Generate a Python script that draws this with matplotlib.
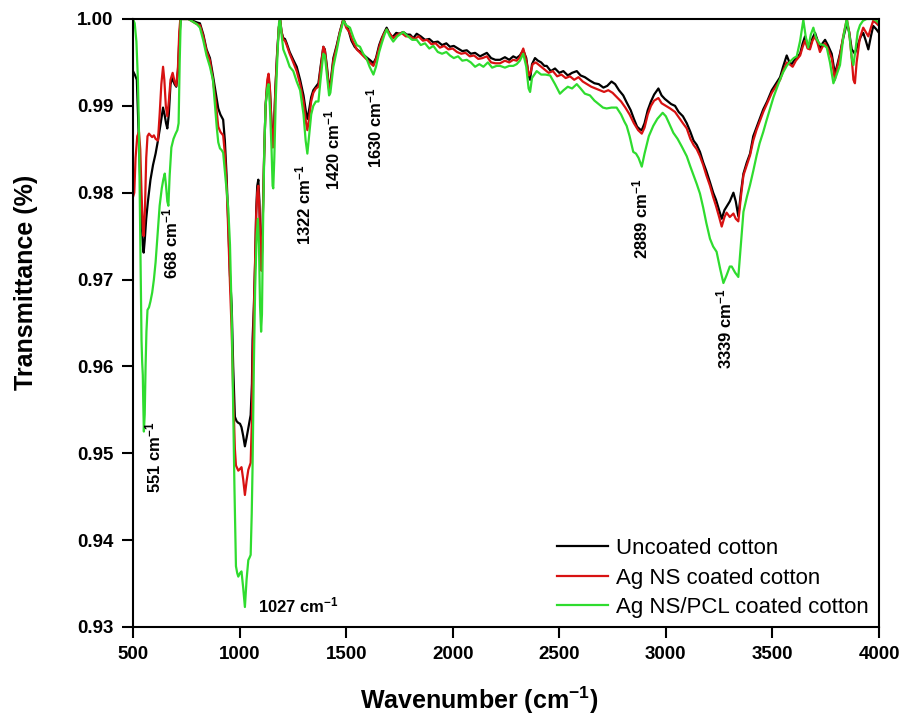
import matplotlib
matplotlib.use("Agg")
import matplotlib.pyplot as plt

plt.rcParams['font.family'] = ['Liberation Sans', 'DejaVu Sans']
plt.rcParams['mathtext.default'] = 'regular'

# ---------------- data ----------------
uncoated_x = [500, 510, 518, 525, 532, 540, 546, 550, 555, 562, 570, 582, 594, 606, 617, 630, 641, 648, 655, 661,
              668, 676, 685, 695, 703, 711, 718, 724, 740, 760, 780, 800, 814, 830, 845, 861, 875, 888, 900, 910,
              923, 931, 939, 947, 955, 963, 970, 978, 986, 994, 1002, 1009, 1017, 1025, 1033, 1041, 1052, 1058, 1061, 1067,
              1073, 1078, 1083, 1088, 1093, 1098, 1103, 1108, 1115, 1122, 1130, 1136, 1142, 1150, 1156, 1160, 1168, 1176, 1184, 1190,
              1197, 1205, 1213, 1221, 1235, 1252, 1268, 1284, 1300, 1312, 1318, 1326, 1336, 1346, 1358, 1370, 1380, 1393, 1400, 1410,
              1420, 1426, 1440, 1456, 1470, 1487, 1500, 1510, 1525, 1540, 1555, 1570, 1585, 1600, 1615, 1628, 1640, 1655, 1667, 1680,
              1690, 1700, 1712, 1721, 1735, 1750, 1768, 1785, 1800, 1815, 1831, 1850, 1870, 1890, 1909, 1930, 1950, 1970, 1987, 2005,
              2025, 2045, 2066, 2085, 2105, 2128, 2144, 2160, 2180, 2200, 2222, 2245, 2265, 2284, 2300, 2315, 2331, 2345, 2356, 2363,
              2372, 2386, 2400, 2415, 2430, 2441, 2460, 2480, 2500, 2519, 2540, 2560, 2582, 2600, 2620, 2644, 2665, 2685, 2707, 2725,
              2745, 2762, 2780, 2800, 2816, 2835, 2850, 2865, 2878, 2887, 2900, 2915, 2930, 2945, 2965, 2980, 2995, 3010, 3025, 3043,
              3060, 3080, 3098, 3115, 3130, 3145, 3160, 3175, 3190, 3207, 3222, 3235, 3250, 3262, 3275, 3285, 3300, 3317, 3328, 3340,
              3352, 3364, 3380, 3395, 3410, 3425, 3440, 3457, 3475, 3497, 3515, 3536, 3550, 3567, 3580, 3590, 3610, 3630, 3642, 3653,
              3665, 3676, 3688, 3700, 3712, 3723, 3735, 3747, 3760, 3778, 3793, 3805, 3817, 3832, 3849, 3860, 3872, 3887, 3900, 3915,
              3926, 3938, 3950, 3962, 3973, 3988, 4000]
uncoated_y = [0.9940, 0.9935, 0.9930, 0.9880, 0.9830, 0.9770, 0.9740, 0.9731, 0.9745, 0.9770, 0.9790, 0.9815, 0.9832, 0.9845, 0.9860, 0.9880, 0.9898, 0.9890, 0.9880, 0.9874,
              0.9890, 0.9925, 0.9932, 0.9925, 0.9922, 0.9940, 0.9980, 1.0000, 1.0000, 1.0000, 0.9998, 0.9996, 0.9995, 0.9982, 0.9965, 0.9955, 0.9935, 0.9915, 0.9897, 0.9890,
              0.9884, 0.9860, 0.9820, 0.9765, 0.9705, 0.9670, 0.9600, 0.9542, 0.9537, 0.9535, 0.9534, 0.9530, 0.9520, 0.9508, 0.9518, 0.9529, 0.9544, 0.9580, 0.9631, 0.9669,
              0.9720, 0.9780, 0.9808, 0.9815, 0.9790, 0.9740, 0.9712, 0.9760, 0.9840, 0.9900, 0.9925, 0.9932, 0.9920, 0.9880, 0.9855, 0.9865, 0.9920, 0.9960, 0.9990, 1.0000,
              0.9985, 0.9978, 0.9977, 0.9972, 0.9962, 0.9953, 0.9945, 0.9930, 0.9912, 0.9892, 0.9885, 0.9895, 0.9910, 0.9918, 0.9922, 0.9926, 0.9945, 0.9968, 0.9965, 0.9945,
              0.9920, 0.9925, 0.9955, 0.9970, 0.9985, 1.0000, 0.9992, 0.9988, 0.9975, 0.9968, 0.9964, 0.9962, 0.9958, 0.9955, 0.9952, 0.9949, 0.9955, 0.9970, 0.9978, 0.9985,
              0.9990, 0.9985, 0.9980, 0.9980, 0.9984, 0.9983, 0.9985, 0.9982, 0.9982, 0.9978, 0.9983, 0.9980, 0.9976, 0.9977, 0.9973, 0.9974, 0.9970, 0.9972, 0.9968, 0.9969,
              0.9966, 0.9963, 0.9964, 0.9960, 0.9961, 0.9957, 0.9959, 0.9961, 0.9955, 0.9953, 0.9953, 0.9956, 0.9953, 0.9957, 0.9955, 0.9958, 0.9964, 0.9955, 0.9935, 0.9930,
              0.9948, 0.9955, 0.9952, 0.9950, 0.9946, 0.9946, 0.9940, 0.9943, 0.9938, 0.9940, 0.9935, 0.9938, 0.9940, 0.9935, 0.9933, 0.9929, 0.9926, 0.9925, 0.9921, 0.9923,
              0.9928, 0.9925, 0.9918, 0.9912, 0.9904, 0.9895, 0.9885, 0.9876, 0.9873, 0.9872, 0.9880, 0.9895, 0.9905, 0.9913, 0.9920, 0.9912, 0.9908, 0.9905, 0.9902, 0.9900,
              0.9893, 0.9888, 0.9880, 0.9870, 0.9860, 0.9855, 0.9847, 0.9835, 0.9825, 0.9812, 0.9800, 0.9792, 0.9780, 0.9770, 0.9780, 0.9784, 0.9790, 0.9800, 0.9790, 0.9773,
              0.9800, 0.9822, 0.9835, 0.9845, 0.9865, 0.9875, 0.9885, 0.9896, 0.9905, 0.9918, 0.9925, 0.9933, 0.9945, 0.9958, 0.9950, 0.9948, 0.9955, 0.9960, 0.9972, 0.9980,
              0.9970, 0.9967, 0.9978, 0.9984, 0.9975, 0.9965, 0.9972, 0.9976, 0.9970, 0.9960, 0.9937, 0.9948, 0.9960, 0.9978, 0.9995, 0.9985, 0.9965, 0.9960, 0.9970, 0.9980,
              0.9984, 0.9975, 0.9965, 0.9980, 0.9992, 0.9988, 0.9984]

agns_x = [500, 506, 512, 520, 528, 534, 540, 546, 550, 556, 562, 568, 575, 582, 590, 598, 606, 617, 625, 633,
          641, 647, 654, 661, 668, 676, 686, 695, 703, 711, 717, 722, 740, 760, 780, 800, 814, 830, 845, 861,
          875, 888, 900, 910, 923, 931, 939, 947, 955, 963, 970, 978, 983, 994, 1002, 1009, 1017, 1025, 1033, 1041,
          1052, 1058, 1061, 1067, 1073, 1078, 1083, 1088, 1093, 1098, 1103, 1108, 1115, 1122, 1130, 1136, 1142, 1150, 1156, 1160,
          1168, 1176, 1184, 1190, 1197, 1205, 1213, 1221, 1235, 1252, 1268, 1284, 1300, 1312, 1318, 1326, 1336, 1346, 1358, 1370,
          1380, 1393, 1400, 1410, 1420, 1426, 1440, 1456, 1470, 1487, 1500, 1515, 1530, 1550, 1570, 1590, 1610, 1628, 1642, 1658,
          1675, 1690, 1705, 1721, 1740, 1760, 1780, 1800, 1820, 1840, 1860, 1880, 1900, 1920, 1940, 1960, 1980, 2000, 2020, 2040,
          2060, 2080, 2100, 2120, 2140, 2160, 2180, 2200, 2222, 2245, 2265, 2284, 2300, 2315, 2331, 2345, 2358, 2365, 2375, 2390,
          2410, 2430, 2450, 2470, 2490, 2510, 2530, 2550, 2570, 2590, 2610, 2630, 2650, 2670, 2690, 2710, 2730, 2750, 2770, 2790,
          2810, 2830, 2850, 2870, 2887, 2900, 2915, 2930, 2945, 2965, 2980, 3000, 3020, 3043, 3060, 3080, 3098, 3115, 3130, 3145,
          3160, 3175, 3190, 3207, 3222, 3235, 3250, 3262, 3275, 3285, 3300, 3317, 3328, 3340, 3352, 3364, 3380, 3395, 3410, 3425,
          3440, 3457, 3475, 3497, 3515, 3536, 3550, 3567, 3580, 3595, 3610, 3630, 3642, 3653, 3665, 3676, 3688, 3700, 3712, 3723,
          3735, 3747, 3760, 3778, 3793, 3805, 3817, 3832, 3849, 3860, 3872, 3880, 3887, 3895, 3910, 3926, 3938, 3950, 3962, 3973,
          3988, 4000]
agns_y = [0.9795, 0.9800, 0.9840, 0.9865, 0.9870, 0.9850, 0.9800, 0.9760, 0.9750, 0.9780, 0.9840, 0.9865, 0.9868, 0.9866, 0.9864, 0.9866, 0.9862, 0.9860, 0.9890, 0.9925,
          0.9945, 0.9930, 0.9900, 0.9888, 0.9905, 0.9930, 0.9938, 0.9928, 0.9923, 0.9945, 0.9985, 1.0000, 1.0000, 1.0000, 0.9997, 0.9994, 0.9993, 0.9980, 0.9963, 0.9952,
          0.9930, 0.9905, 0.9876, 0.9870, 0.9866, 0.9845, 0.9810, 0.9755, 0.9695, 0.9640, 0.9570, 0.9505, 0.9486, 0.9480, 0.9482, 0.9484, 0.9470, 0.9452, 0.9468, 0.9481,
          0.9489, 0.9540, 0.9600, 0.9660, 0.9720, 0.9775, 0.9800, 0.9808, 0.9780, 0.9735, 0.9710, 0.9760, 0.9840, 0.9900, 0.9930, 0.9937, 0.9922, 0.9878, 0.9852, 0.9862,
          0.9918, 0.9958, 0.9990, 1.0000, 0.9985, 0.9976, 0.9975, 0.9970, 0.9960, 0.9950, 0.9940, 0.9925, 0.9905, 0.9880, 0.9872, 0.9885, 0.9905, 0.9915, 0.9920, 0.9922,
          0.9942, 0.9968, 0.9964, 0.9942, 0.9918, 0.9922, 0.9952, 0.9968, 0.9984, 1.0000, 0.9990, 0.9985, 0.9975, 0.9965, 0.9960, 0.9955, 0.9950, 0.9946, 0.9955, 0.9970,
          0.9982, 0.9988, 0.9983, 0.9978, 0.9982, 0.9984, 0.9980, 0.9980, 0.9977, 0.9980, 0.9975, 0.9976, 0.9971, 0.9972, 0.9967, 0.9969, 0.9965, 0.9966, 0.9962, 0.9960,
          0.9961, 0.9957, 0.9958, 0.9954, 0.9955, 0.9957, 0.9950, 0.9949, 0.9949, 0.9952, 0.9950, 0.9953, 0.9952, 0.9956, 0.9966, 0.9952, 0.9935, 0.9938, 0.9948, 0.9950,
          0.9946, 0.9942, 0.9938, 0.9940, 0.9934, 0.9936, 0.9932, 0.9934, 0.9930, 0.9933, 0.9928, 0.9925, 0.9922, 0.9920, 0.9918, 0.9916, 0.9918, 0.9915, 0.9910, 0.9905,
          0.9898, 0.9890, 0.9880, 0.9872, 0.9868, 0.9875, 0.9890, 0.9900, 0.9906, 0.9909, 0.9903, 0.9900, 0.9897, 0.9893, 0.9887, 0.9880, 0.9874, 0.9862, 0.9855, 0.9850,
          0.9842, 0.9832, 0.9820, 0.9808, 0.9795, 0.9785, 0.9772, 0.9761, 0.9772, 0.9777, 0.9772, 0.9776, 0.9770, 0.9767, 0.9795, 0.9820, 0.9832, 0.9843, 0.9860, 0.9872,
          0.9882, 0.9893, 0.9903, 0.9915, 0.9922, 0.9930, 0.9940, 0.9950, 0.9948, 0.9945, 0.9952, 0.9958, 0.9968, 0.9975, 0.9966, 0.9965, 0.9975, 0.9980, 0.9972, 0.9962,
          0.9968, 0.9972, 0.9966, 0.9955, 0.9930, 0.9945, 0.9958, 0.9980, 1.0000, 0.9985, 0.9955, 0.9930, 0.9926, 0.9950, 0.9978, 0.9990, 0.9985, 0.9980, 0.9990, 0.9998,
          0.9995, 0.9992]

pcl_x = [500, 508, 516, 523, 528, 533, 537, 540, 543, 546, 548, 551, 555, 559, 563, 568, 575, 582, 590, 598,
         606, 615, 625, 635, 642, 649, 655, 661, 666, 672, 680, 690, 700, 708, 714, 719, 724, 740, 760, 780,
         800, 814, 830, 845, 861, 875, 885, 893, 900, 908, 916, 923, 931, 939, 947, 955, 963, 970, 976, 983,
         989, 994, 1002, 1009, 1017, 1025, 1033, 1041, 1047, 1052, 1057, 1061, 1067, 1073, 1080, 1086, 1091, 1096, 1101, 1105,
         1110, 1116, 1122, 1130, 1136, 1142, 1150, 1155, 1158, 1163, 1170, 1178, 1185, 1190, 1197, 1205, 1213, 1221, 1235, 1252,
         1268, 1284, 1300, 1310, 1318, 1326, 1336, 1346, 1358, 1370, 1380, 1393, 1400, 1410, 1420, 1426, 1440, 1456, 1470, 1487,
         1500, 1518, 1535, 1550, 1565, 1580, 1595, 1610, 1628, 1640, 1655, 1667, 1680, 1690, 1705, 1721, 1740, 1768, 1790, 1810,
         1831, 1850, 1870, 1890, 1909, 1930, 1950, 1970, 1987, 2005, 2025, 2045, 2066, 2085, 2105, 2125, 2144, 2165, 2185, 2206,
         2222, 2245, 2265, 2284, 2300, 2315, 2331, 2345, 2356, 2363, 2372, 2394, 2415, 2435, 2457, 2480, 2503, 2520, 2540, 2560,
         2582, 2600, 2620, 2644, 2665, 2685, 2705, 2722, 2745, 2769, 2790, 2805, 2816, 2830, 2847, 2860, 2872, 2887, 2900, 2920,
         2941, 2960, 2985, 3000, 3015, 3035, 3055, 3075, 3098, 3115, 3130, 3145, 3160, 3175, 3190, 3207, 3222, 3238, 3255, 3270,
         3285, 3300, 3309, 3325, 3340, 3352, 3364, 3380, 3395, 3410, 3426, 3440, 3457, 3472, 3489, 3505, 3520, 3535, 3551, 3567,
         3583, 3600, 3614, 3630, 3645, 3656, 3668, 3680, 3692, 3705, 3723, 3740, 3755, 3770, 3786, 3800, 3817, 3833, 3849, 3862,
         3872, 3880, 3890, 3900, 3911, 3925, 3942, 3960, 3973, 3988, 4000]
pcl_y = [1.0000, 0.9995, 0.9974, 0.9930, 0.9870, 0.9770, 0.9680, 0.9630, 0.9605, 0.9590, 0.9560, 0.9525, 0.9545, 0.9600, 0.9640, 0.9665, 0.9668, 0.9675, 0.9685, 0.9700,
         0.9720, 0.9750, 0.9785, 0.9805, 0.9815, 0.9822, 0.9808, 0.9790, 0.9785, 0.9820, 0.9852, 0.9862, 0.9868, 0.9872, 0.9880, 0.9950, 1.0000, 1.0000, 1.0000, 0.9997,
         0.9994, 0.9990, 0.9975, 0.9958, 0.9945, 0.9930, 0.9900, 0.9875, 0.9858, 0.9851, 0.9849, 0.9846, 0.9825, 0.9804, 0.9782, 0.9740, 0.9660, 0.9550, 0.9460, 0.9370,
         0.9362, 0.9358, 0.9362, 0.9364, 0.9345, 0.9323, 0.9355, 0.9377, 0.9380, 0.9383, 0.9430, 0.9485, 0.9600, 0.9690, 0.9750, 0.9770, 0.9740, 0.9670, 0.9640, 0.9660,
         0.9760, 0.9850, 0.9900, 0.9920, 0.9925, 0.9900, 0.9850, 0.9808, 0.9805, 0.9840, 0.9910, 0.9960, 0.9995, 1.0000, 0.9982, 0.9965, 0.9960, 0.9955, 0.9945, 0.9940,
         0.9928, 0.9918, 0.9890, 0.9860, 0.9845, 0.9865, 0.9890, 0.9900, 0.9905, 0.9905, 0.9930, 0.9960, 0.9958, 0.9935, 0.9912, 0.9915, 0.9945, 0.9964, 0.9982, 0.9998,
         0.9993, 0.9990, 0.9978, 0.9970, 0.9968, 0.9960, 0.9955, 0.9945, 0.9936, 0.9945, 0.9962, 0.9972, 0.9982, 0.9988, 0.9980, 0.9974, 0.9980, 0.9985, 0.9980, 0.9976,
         0.9976, 0.9970, 0.9972, 0.9966, 0.9969, 0.9962, 0.9960, 0.9962, 0.9958, 0.9955, 0.9957, 0.9952, 0.9953, 0.9950, 0.9945, 0.9948, 0.9945, 0.9950, 0.9944, 0.9946,
         0.9946, 0.9944, 0.9946, 0.9946, 0.9948, 0.9952, 0.9960, 0.9945, 0.9920, 0.9916, 0.9932, 0.9940, 0.9936, 0.9936, 0.9935, 0.9925, 0.9914, 0.9918, 0.9922, 0.9920,
         0.9925, 0.9920, 0.9914, 0.9912, 0.9906, 0.9902, 0.9898, 0.9897, 0.9898, 0.9898, 0.9890, 0.9882, 0.9877, 0.9865, 0.9847, 0.9845, 0.9840, 0.9830, 0.9845, 0.9865,
         0.9877, 0.9885, 0.9892, 0.9888, 0.9880, 0.9869, 0.9862, 0.9853, 0.9842, 0.9830, 0.9820, 0.9810, 0.9799, 0.9783, 0.9765, 0.9747, 0.9738, 0.9732, 0.9712, 0.9696,
         0.9705, 0.9715, 0.9715, 0.9708, 0.9703, 0.9740, 0.9778, 0.9795, 0.9809, 0.9825, 0.9843, 0.9857, 0.9870, 0.9883, 0.9897, 0.9910, 0.9920, 0.9930, 0.9939, 0.9946,
         0.9951, 0.9955, 0.9957, 0.9975, 0.9999, 0.9980, 0.9967, 0.9982, 0.9990, 0.9978, 0.9971, 0.9970, 0.9967, 0.9950, 0.9926, 0.9935, 0.9947, 0.9980, 1.0000, 0.9980,
         0.9955, 0.9947, 0.9965, 0.9985, 0.9993, 0.9998, 1.0000, 1.0000, 1.0000, 0.9998, 0.9995]

series_labels = ["Uncoated cotton", "Ag NS coated cotton", "Ag NS/PCL coated cotton"]

peak_labels = ["551 cm$^{-1}$", "668 cm$^{-1}$", "1322 cm$^{-1}$", "1420 cm$^{-1}$",
               "1630 cm$^{-1}$", "2889 cm$^{-1}$", "3339 cm$^{-1}$"]
peak_label_x = [598, 676, 1302, 1438, 1631, 2879, 3273]
peak_label_y = [0.9495, 0.9742, 0.9786, 0.9849, 0.9875, 0.9770, 0.9643]
main_peak_label = "1027 cm$^{-1}$"
main_peak_x = 1274
main_peak_y = 0.9325

xticks = [500, 1000, 1500, 2000, 2500, 3000, 3500, 4000]
yticks = [0.93, 0.94, 0.95, 0.96, 0.97, 0.98, 0.99, 1.00]

# ---------------- plot ----------------
fig = plt.figure(figsize=(9.06, 7.22), dpi=100)
ax = fig.add_axes([0.1468, 0.1316, 0.8234, 0.8421])

ax.plot(uncoated_x, uncoated_y, color='#000000', lw=1.6, label=series_labels[0])
ax.plot(agns_x, agns_y, color='#d81212', lw=1.6, label=series_labels[1])
ax.plot(pcl_x, pcl_y, color='#2fdc2f', lw=1.6, label=series_labels[2])

ax.set_xlim(500, 4000)
ax.set_ylim(0.93, 1.00)
ax.set_xticks(xticks)
ax.set_yticks(yticks)
ax.set_yticklabels([f"{v:.2f}" for v in yticks])

for s in ax.spines.values():
    s.set_linewidth(1.5)
ax.tick_params(axis='both', direction='out', length=8, width=1.5, labelsize=13.5, pad=6)
for lab in ax.get_xticklabels() + ax.get_yticklabels():
    lab.set_fontweight('bold')

ax.set_xlabel("Wavenumber (cm$^{-1}$)", fontsize=18, fontweight='bold')
ax.set_ylabel("Transmittance (%)", fontsize=18, fontweight='bold')
ax.xaxis.set_label_coords(0.464, -0.094)
ax.yaxis.set_label_coords(-0.127, 0.567)

for t, x, y in zip(peak_labels, peak_label_x, peak_label_y):
    ax.text(x, y, t, rotation=90, ha='center', va='center', fontsize=12, fontweight='bold')
ax.text(main_peak_x, main_peak_y, main_peak_label, ha='center', va='center', fontsize=12, fontweight='bold')

ax.legend(loc='upper left', bbox_to_anchor=(0.568, 0.146), frameon=False, fontsize=16,
          handlelength=2.3, handletextpad=0.35, labelspacing=0.38, borderpad=0, borderaxespad=0)

fig.savefig("out.png", dpi=100)
